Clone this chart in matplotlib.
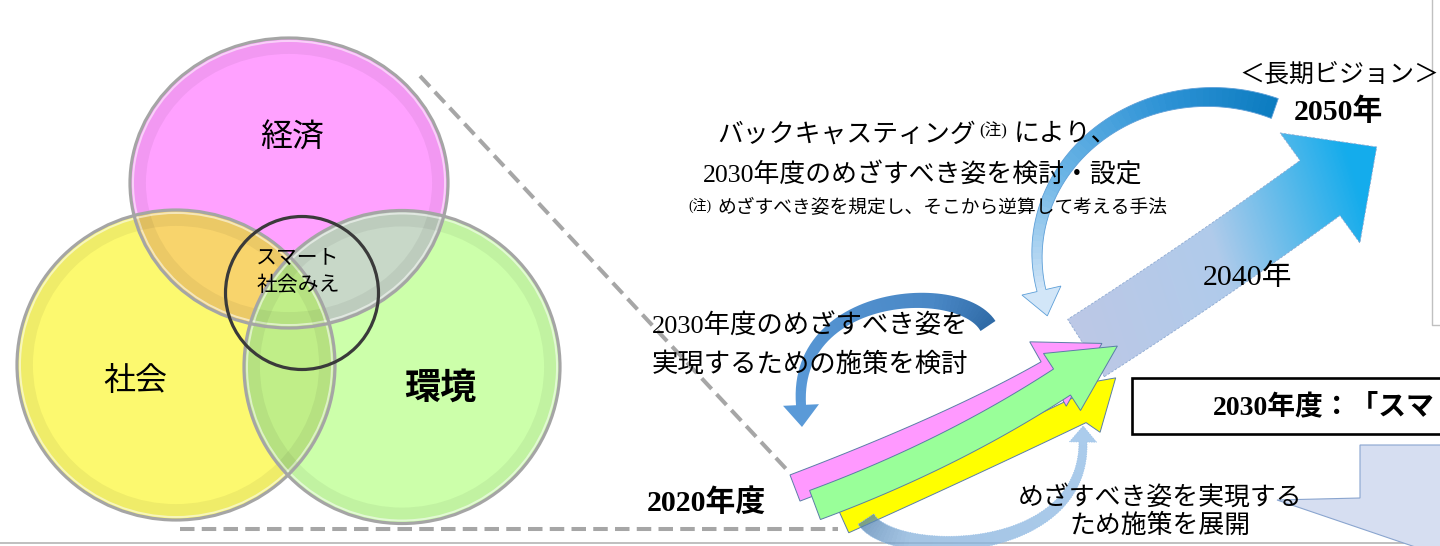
import matplotlib
matplotlib.use("Agg")
import matplotlib.pyplot as plt
import numpy as np
from matplotlib.patches import Ellipse, Polygon, Rectangle
from matplotlib.colors import LinearSegmentedColormap

JP = ["Noto Sans CJK JP", "DejaVu Sans"]
SJP = ["Liberation Serif", "Noto Sans CJK JP", "DejaVu Sans"]

W, H = 1440, 546

# ---- texts ----
venn_labels = ["経済", "社会", "環境"]
centre_label = ["スマート", "社会みえ"]
backcast_line1 = ["バックキャスティング", "(注)", "により、"]
backcast_line2 = "2030年度のめざすべき姿を検討・設定"
backcast_note = ["(注)", "めざすべき姿を規定し、そこから逆算して考える手法"]
measure_lines = ["2030年度のめざすべき姿を", "実現するための施策を検討"]
deploy_lines = ["めざすべき姿を実現する", "ため施策を展開"]
vision_label = "＜長期ビジョン＞"
year_labels = ["2020年度", "2040年", "2050年"]
goal_label = "2030年度：「スマ"   # the reference is cut off at the right edge here

# ---- venn layout (centre, size) ----
venn_xy = [(289, 183), (176, 365), (402, 367)]
venn_wh = [(318, 290), (318, 310), (316, 313)]
venn_fc = ["#ffa1ff", "#fcf96f", "#ccffaa"]
overlap_fc = ["#f8d46c", "#c8d8c8", "#c0ee88"]  # pink&yellow, pink&green, yellow&green

# ---- arrow layout ----
pink_ctrl = [(795, 488), (955, 427), (1048, 374)]
green_ctrl = [(815, 505), (950, 455), (1062, 382)]
yellow_ctrl = [(843, 520), (963, 466), (1080, 410)]
big_ctrl = [(1086, 348), (1200, 275), (1320, 188)]
mid_ctrl = [(988, 326), (960, 280), (793, 290), (801, 405)]
low_ctrl = [(866, 519), (890, 560), (1085, 560), (1083, 442)]
top_arc = (1210, 255, 173, 158, -68, -193)


def bezier(c, n=60):
    c = np.asarray(c, float)
    t = np.linspace(0, 1, n)[:, None]
    if len(c) == 3:
        return (1 - t) ** 2 * c[0] + 2 * (1 - t) * t * c[1] + t ** 2 * c[2]
    return ((1 - t) ** 3 * c[0] + 3 * (1 - t) ** 2 * t * c[1]
            + 3 * (1 - t) * t ** 2 * c[2] + t ** 3 * c[3])


def arc(cx, cy, rx, ry, t0, t1, n=60):
    t = np.radians(np.linspace(t0, t1, n))
    return np.column_stack([cx + rx * np.cos(t), cy + ry * np.sin(t)])


def outline(pts, w0, w1, hw, hl, head_deg=None):
    d = np.gradient(pts, axis=0)
    d /= np.linalg.norm(d, axis=1)[:, None]
    n = np.column_stack([-d[:, 1], d[:, 0]])
    w = np.linspace(w0, w1, len(pts))[:, None] / 2
    left, right = pts + n * w, pts - n * w
    e, t = pts[-1], d[-1]
    if head_deg is not None:
        a = np.radians(head_deg)
        t = np.array([np.cos(a), -np.sin(a)])
    nn = np.array([-t[1], t[0]])
    head = np.array([e + nn * hw / 2, e + t * hl, e - nn * hw / 2])
    return np.vstack([left, head, right[::-1]])


def grad_fill(ax, pts, poly, stops, z, alpha=1.0, lin=None):
    x0, y0 = np.floor(poly.min(0)) - 2
    x1, y1 = np.ceil(poly.max(0)) + 2
    X, Y = np.meshgrid(np.arange(x0, x1) + 0.5, np.arange(y0, y1) + 0.5)
    if lin is None:
        best = np.full(X.shape, np.inf)
        idx = np.zeros(X.shape)
        for i, (px, py) in enumerate(pts):
            dd = (X - px) ** 2 + (Y - py) ** 2
            m = dd < best
            best[m] = dd[m]
            idx[m] = i
        s = idx / (len(pts) - 1)
    else:
        (ax0, ay0), (ax1, ay1) = lin
        u = np.array([ax1 - ax0, ay1 - ay0])
        L = np.hypot(*u)
        u = u / L
        s = np.clip(((X - ax0) * u[0] + (Y - ay0) * u[1]) / L, 0, 1)
    cmap = LinearSegmentedColormap.from_list("g", stops)
    img = cmap(s)
    img[..., 3] = alpha
    im = ax.imshow(img, extent=(x0, x1, y1, y0), origin="upper", zorder=z,
                   interpolation="bilinear", aspect="auto")
    im.set_clip_path(Polygon(poly, closed=True, transform=ax.transData))


def chain(ax, x, y, parts, r):
    for s, size, dy, gap in parts:
        t = ax.text(x, y + dy, s, fontsize=size, family=SJP, ha="left",
                    va="center", zorder=40)
        bb = t.get_window_extent(r)
        x = ax.transData.inverted().transform((bb.x1, bb.y0))[0] + gap


fig = plt.figure(figsize=(W / 100, H / 100), dpi=100)
ax = fig.add_axes([0, 0, 1, 1])
ax.set_xlim(0, W)
ax.set_ylim(H, 0)
ax.axis("off")
r = fig.canvas.get_renderer()

# frame lines
ax.plot([0, W], [543, 543], color="#b4b4b4", lw=1.2, zorder=0)
ax.plot([1432, 1432, W], [0, 325, 325], color="#c0c0c0", lw=1.0, zorder=0)

# dashed guide lines
ax.plot([420, 789], [76, 472], color="#a6a6a6", lw=2.9, ls=(0, (3.6, 1.8)), zorder=0.5)
ax.plot([180, 838], [529, 529], color="#a6a6a6", lw=2.9, ls=(0, (3.6, 1.8)), zorder=0.5)


# ---- venn ----
def ell(i, **kw):
    return Ellipse(venn_xy[i], *venn_wh[i], **kw)


ax.add_patch(ell(1, fc=venn_fc[1], ec="none", zorder=2))
ax.add_patch(ell(0, fc=venn_fc[0], ec="none", zorder=3))
p = ell(0, fc=overlap_fc[0], ec="none", zorder=4)
ax.add_patch(p)
p.set_clip_path(ell(1, transform=ax.transData))
ax.add_patch(ell(2, fc=venn_fc[2], ec="none", zorder=5))
p = ell(0, fc=overlap_fc[1], ec="none", zorder=6)
ax.add_patch(p)
p.set_clip_path(ell(2, transform=ax.transData))
p = ell(1, fc=overlap_fc[2], ec="none", zorder=7)
ax.add_patch(p)
p.set_clip_path(ell(2, transform=ax.transData))

for i in range(3):
    (cx, cy), (w, h) = venn_xy[i], venn_wh[i]
    ax.add_patch(Ellipse((cx, cy), w - 18, h - 18, fill=False, ec="black",
                         lw=10, alpha=0.05, zorder=8))
    ax.add_patch(Ellipse((cx, cy), w - 6, h - 6, fill=False, ec="white",
                         lw=1.4, alpha=0.55, zorder=8))
    ax.add_patch(Ellipse((cx, cy), w, h, fill=False, ec="#a5a5a5", lw=2.3, zorder=8.5))

ax.add_patch(Ellipse((302, 293), 153, 153, fill=False, ec="#3a3a3a", lw=2.3, zorder=9))

ax.text(292, 138, venn_labels[0], fontsize=23, family=JP, ha="center", va="center", zorder=10)
ax.text(135, 381, venn_labels[1], fontsize=23, family=JP, ha="center", va="center", zorder=10)
ax.text(440, 388, venn_labels[2], fontsize=26, family=JP, weight="bold",
        ha="center", va="center", zorder=10)
ax.text(298, 258, centre_label[0], fontsize=15, family=JP, ha="center", va="center", zorder=10)
ax.text(298, 285, centre_label[1], fontsize=15, family=JP, ha="center", va="center", zorder=10)

# ---- coloured arrows ----
edge = "#5a7ea6"
yel = outline(bezier(yellow_ctrl), 28, 28, 60, 48, head_deg=42)
ax.add_patch(Polygon(yel, closed=True, fc="#ffff00", ec=edge, lw=0.7, zorder=20))

bp = bezier(big_ctrl)
big = outline(bp, 68, 68, 136, 70)
grad_fill(ax, bp, big, [(0, "#bcc8e6"), (0.5, "#b0cbeb"), (0.72, "#6cbdea"),
                        (1, "#14acec")], 21, lin=((1086, 348), (1380, 255)))
ax.add_patch(Polygon(big, closed=True, fill=False, ec="#8eaad2", lw=0.6,
                     ls=(0, (3, 2)), zorder=21.5))

ax.add_patch(Polygon(outline(bezier(pink_ctrl), 28, 28, 74, 62), closed=True,
                     fc="#ff99ff", ec=edge, lw=0.7, zorder=22))
ax.add_patch(Polygon(outline(bezier(green_ctrl), 31, 31, 68, 66), closed=True,
                     fc="#99ff99", ec=edge, lw=0.7, zorder=23))

# ---- blue curved arrows ----
tp = arc(*top_arc)
top = outline(tp, 21, 9, 40, 26)
grad_fill(ax, tp, top, [(0, "#0c7cc0"), (0.3, "#2e93d6"), (0.65, "#6cb5e6"),
                        (0.9, "#b2d6f2"), (1, "#d2e6f8")], 25)
ax.add_patch(Polygon(top, closed=True, fill=False, ec="#5d9fd8", lw=0.6, zorder=25.5))

mp = bezier(mid_ctrl)
mid = outline(mp, 18, 10, 36, 22)
grad_fill(ax, mp, mid, [(0, "#2f6aa6"), (0.3, "#4a88c6"), (1, "#5a9ad8")], 25)

lp = bezier(low_ctrl)
low = outline(lp, 19, 8, 27, 16)
grad_fill(ax, lp, low, [(0, "#4f7fb0"), (0.25, "#87b2dc"), (1, "#8fbbe6")], 24, alpha=0.75)
ax.add_patch(Polygon(low, closed=True, fill=False, ec="#9cc2e8", lw=0.5,
                     ls=(0, (2, 1.5)), zorder=24.5))

# ---- callout and goal box ----
ax.add_patch(Polygon([(1360, 445), (1446, 445), (1446, 556), (1430, 552),
                      (1277, 500), (1360, 498)], closed=True, fc="#d6def1",
                     ec="#8aa5cf", lw=0.8, zorder=15))
ax.add_patch(Rectangle((1132, 378), 330, 56, fc="white", ec="black", lw=1.9, zorder=16))
ax.text(1213, 407, goal_label, fontsize=20, family=SJP, weight="bold",
        ha="left", va="center", zorder=17)

# ---- texts ----
chain(ax, 717, 135, [(backcast_line1[0], 18.6, 0, 4), (backcast_line1[1], 12, -4, 6),
                     (backcast_line1[2], 18.6, 0, 0)], r)
ax.text(703, 175, backcast_line2, fontsize=18.6, family=SJP, ha="left", va="center", zorder=40)
chain(ax, 688, 208, [(backcast_note[0], 10, -3, 6), (backcast_note[1], 13.5, 0, 0)], r)

ax.text(652, 326, measure_lines[0], fontsize=19, family=SJP, ha="left", va="center", zorder=40)
ax.text(652, 364, measure_lines[1], fontsize=19, family=SJP, ha="left", va="center", zorder=40)

ax.text(1160, 497, deploy_lines[0], fontsize=18.6, family=SJP, ha="center", va="center", zorder=40)
ax.text(1160, 526, deploy_lines[1], fontsize=18.6, family=SJP, ha="center", va="center", zorder=40)

ax.text(1339, 75, vision_label, fontsize=18, family=SJP, ha="center", va="center", zorder=40)
ax.text(706, 503, year_labels[0], fontsize=21.5, family=SJP, weight="bold",
        ha="center", va="center", zorder=40)
ax.text(1248, 278, year_labels[1], fontsize=21.5, family=SJP, ha="center", va="center", zorder=40)
ax.text(1338, 112, year_labels[2], fontsize=21.5, family=SJP, weight="bold",
        ha="center", va="center", zorder=40)

ax.set_xlim(0, W)
ax.set_ylim(H, 0)
fig.savefig("out.png", dpi=100)
